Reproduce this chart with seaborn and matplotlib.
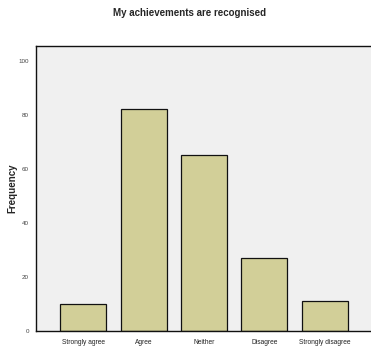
import matplotlib
matplotlib.use("Agg")
import matplotlib.pyplot as plt
import seaborn as sns
import pandas as pd

categories = ["Strongly agree", "Agree", "Neither", "Disagree", "Strongly disagree"]
frequency = [10, 82, 65, 27, 11]
yticks = [0, 20, 40, 60, 80, 100]

sns.set_style("white")
plt.rcParams['font.family'] = ['Liberation Sans', 'DejaVu Sans']

df = pd.DataFrame({"category": categories, "Frequency": frequency})

fig = plt.figure(figsize=(3.71, 3.51), dpi=100)
W, H = 371, 351
left, right, top, bottom = 36, 372, 46, 330.7
ax = fig.add_axes([left / W, (H - bottom) / H, (right - left) / W, (bottom - top) / H])
ax.set_facecolor("#F0F0F0")

sns.barplot(data=df, x="category", y="Frequency", order=categories, color="#D2CF98",
            saturation=1, width=0.76, edgecolor="#111111", linewidth=0.9, ax=ax)

ax.set_xlim(-0.78, 4.78)
ax.set_ylim(0, 105.4)
ax.set_yticks(yticks)
ax.set_yticklabels([str(v) for v in yticks], fontsize=4.5, color="#444444")
ax.set_xticks(range(len(categories)))
ax.set_xticklabels(categories, fontsize=4.8, color="#222222")
ax.tick_params(axis="both", direction="out", length=3, width=0.8, color="#333333", pad=2)
ax.tick_params(axis="x", length=4)

ax.set_xlabel("")
ax.set_ylabel("Frequency", fontsize=7, fontweight="bold")
ax.yaxis.set_label_coords((17 - left) / (right - left), 0.5)

for side in ["left", "bottom", "top"]:
    ax.spines[side].set_visible(True)
    ax.spines[side].set_color("#111111")
    ax.spines[side].set_linewidth(1.0)
ax.spines["right"].set_visible(False)

fig.text(0.51, 1 - 13 / H, "My achievements are recognised", ha="center", va="center",
         fontsize=7, fontweight="bold")

fig.savefig("out.png", dpi=100, facecolor="white")
